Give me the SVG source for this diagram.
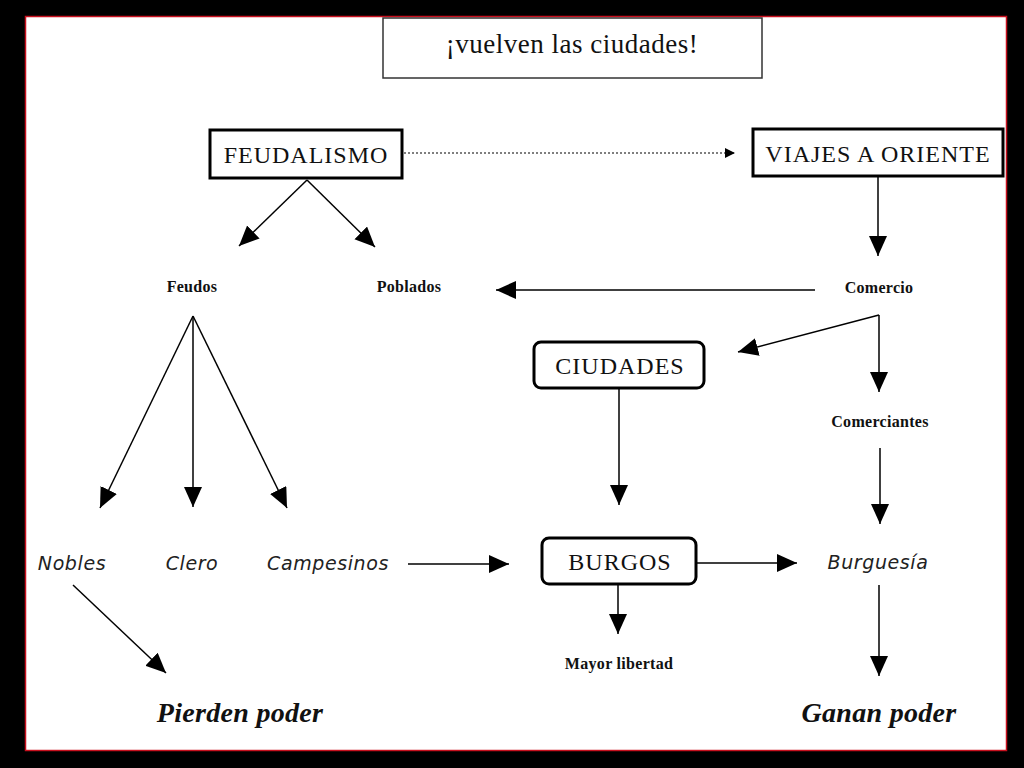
<svg xmlns="http://www.w3.org/2000/svg" width="1024" height="768" viewBox="0 0 1024 768">
<style>
.box{fill:#fff;stroke:#000;stroke-width:3}
.serif{font-family:"Liberation Serif","DejaVu Serif",serif;fill:#111}
.big{font-size:24px;letter-spacing:1px}
.small{font-size:16px;font-weight:bold;letter-spacing:0.3px}
.ital{font-family:"DejaVu Sans","Liberation Sans",sans-serif;font-style:italic;font-size:19px;letter-spacing:0.6px;fill:#222}
.power{font-size:28px;font-weight:bold;font-style:italic;letter-spacing:0.3px}
.conn line{stroke:#000;stroke-width:1.5;marker-end:url(#ah)}
</style>
<defs>
<marker id="ah" markerUnits="userSpaceOnUse" markerWidth="22" markerHeight="20" refX="20" refY="9" orient="auto" viewBox="0 0 22 20">
<path d="M0,0 L20,9 L0,18 z" fill="#000"/>
</marker>
<marker id="sah" markerUnits="userSpaceOnUse" markerWidth="12" markerHeight="12" refX="10" refY="5" orient="auto" viewBox="0 0 12 12">
<path d="M0,0 L10,5 L0,10 z" fill="#000"/>
</marker>
</defs>
<rect x="0" y="0" width="1024" height="768" fill="#000"/>
<rect x="25.5" y="16.5" width="981" height="734" fill="#fff" stroke="#c8101e" stroke-width="1.5"/>

<g id="title">
<rect x="383" y="18" width="379" height="60" fill="#fff" stroke="#333" stroke-width="1.5"/>
<text class="serif" x="572" y="53" text-anchor="middle" font-size="27" letter-spacing="0.5">¡vuelven las ciudades!</text>
</g>
<g id="feudalismo">
<rect class="box" x="210" y="130" width="192" height="48"/>
<text class="serif big" x="306" y="163" text-anchor="middle">FEUDALISMO</text>
</g>
<g id="viajes">
<rect class="box" x="753" y="129" width="250" height="47"/>
<text class="serif big" x="878" y="162" text-anchor="middle">VIAJES A ORIENTE</text>
</g>
<g id="feudos"><text class="serif small" x="192" y="292" text-anchor="middle">Feudos</text></g>
<g id="poblados"><text class="serif small" x="409" y="292" text-anchor="middle">Poblados</text></g>
<g id="comercio"><text class="serif small" x="879" y="293" text-anchor="middle">Comercio</text></g>
<g id="ciudades">
<rect class="box" x="534" y="342" width="170" height="46" rx="7"/>
<text class="serif big" x="620" y="374" text-anchor="middle">CIUDADES</text>
</g>
<g id="comerciantes"><text class="serif small" x="880" y="427" text-anchor="middle">Comerciantes</text></g>
<g id="nobles"><text class="ital" x="72" y="570" text-anchor="middle">Nobles</text></g>
<g id="clero"><text class="ital" x="192" y="570" text-anchor="middle">Clero</text></g>
<g id="campesinos"><text class="ital" x="328" y="570" text-anchor="middle">Campesinos</text></g>
<g id="burgos">
<rect class="box" x="542" y="538" width="154" height="46" rx="7"/>
<text class="serif big" x="620" y="570" text-anchor="middle">BURGOS</text>
</g>
<g id="burguesia"><text class="ital" x="878" y="569" text-anchor="middle">Burguesía</text></g>
<g id="libertad"><text class="serif small" x="619" y="669" text-anchor="middle">Mayor libertad</text></g>
<g id="pierden"><text class="serif power" x="240" y="722" text-anchor="middle">Pierden poder</text></g>
<g id="ganan"><text class="serif power" x="879" y="722" text-anchor="middle">Ganan poder</text></g>

<g id="connectors" class="conn">
<line x1="404" y1="153" x2="735" y2="153" style="stroke-dasharray:2,2;stroke-width:1.2;marker-end:url(#sah)"/>
<line x1="307" y1="180" x2="239" y2="246"/>
<line x1="307" y1="180" x2="375" y2="247"/>
<line x1="878" y1="177" x2="878" y2="256"/>
<line x1="815" y1="290" x2="496" y2="290"/>
<line x1="879" y1="315" x2="738" y2="352"/>
<line x1="879" y1="315" x2="879" y2="392"/>
<line x1="193" y1="316" x2="100" y2="508"/>
<line x1="193" y1="316" x2="193" y2="507"/>
<line x1="193" y1="316" x2="287" y2="508"/>
<line x1="619" y1="389" x2="619" y2="505"/>
<line x1="880" y1="448" x2="880" y2="524"/>
<line x1="408" y1="564" x2="509" y2="564"/>
<line x1="697" y1="563" x2="797" y2="563"/>
<line x1="618" y1="585" x2="618" y2="634"/>
<line x1="879" y1="585" x2="879" y2="676"/>
<line x1="73" y1="585" x2="166" y2="673"/>
</g>
</svg>
